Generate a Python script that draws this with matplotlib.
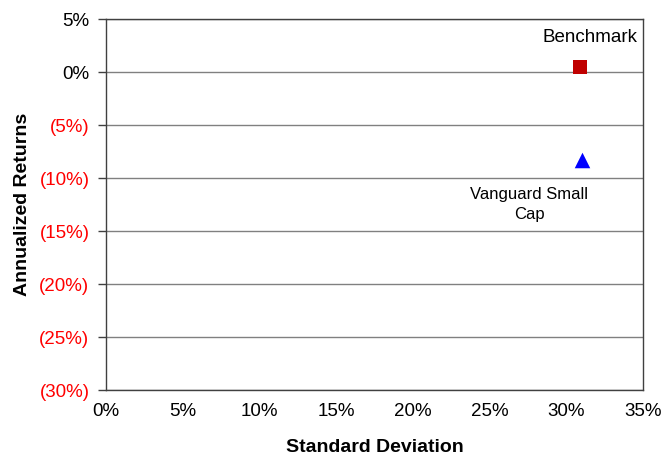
import matplotlib.pyplot as plt
from matplotlib.ticker import FuncFormatter

plt.rcParams['font.family'] = ['Liberation Sans', 'DejaVu Sans']

names = ['Benchmark', 'Vanguard Small\nCap']
std_dev = [30.9, 31.0]
returns = [0.5, -8.3]
markers = ['s', '^']
sizes = [115, 125]
colors = ['#C00000', '#0000FF']
label_offsets = [(7, 21), (-38, -32)]
label_sizes = [13.5, 12]

fig = plt.figure(figsize=(6.63, 4.59), dpi=100)
ax = fig.add_axes([0.16, 0.150, 0.81, 0.8086])

for x, y, m, sz, c, n, off, fs in zip(std_dev, returns, markers, sizes, colors,
                                      names, label_offsets, label_sizes):
    ax.scatter(x, y, marker=m, s=sz, color=c, zorder=3, linewidths=0)
    ax.annotate(n, (x, y), xytext=off, textcoords='offset points',
                ha='center', va='center', fontsize=fs, color='black',
                linespacing=1.35)

ax.set_xlim(0, 35)
ax.set_ylim(-30, 5)
ax.set_xticks(range(0, 36, 5))
ax.set_yticks(range(-30, 6, 5))
ax.xaxis.set_major_formatter(FuncFormatter(lambda v, p: '%d%%' % v))
ax.yaxis.set_major_formatter(FuncFormatter(
    lambda v, p: '(%d%%)' % abs(v) if v < 0 else '%d%%' % v))
for lab, v in zip(ax.get_yticklabels(), ax.get_yticks()):
    lab.set_color('red' if v < 0 else 'black')

ax.yaxis.grid(True, color='#808080', linewidth=1)
ax.set_axisbelow(True)
ax.tick_params(axis='x', length=0, labelsize=13.5, pad=9)
ax.tick_params(axis='y', length=6, direction='out', labelsize=13.5, width=1,
               color='#404040', pad=6)
for s in ax.spines.values():
    s.set_color('#404040')
    s.set_linewidth(1)

ax.set_xlabel('Standard Deviation', fontsize=14, fontweight='bold', labelpad=14)
ax.set_ylabel('Annualized Returns', fontsize=14, fontweight='bold', labelpad=6)

fig.savefig('out.png', dpi=100)
